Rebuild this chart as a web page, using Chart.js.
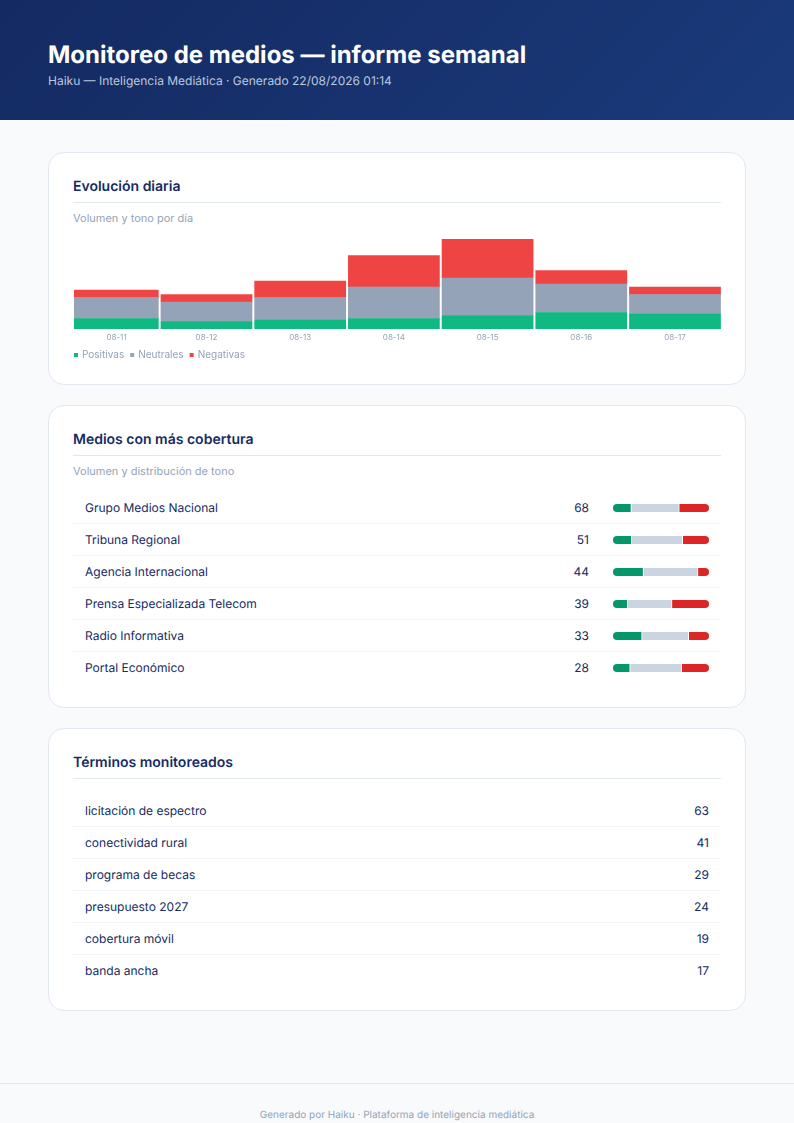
<!DOCTYPE html>
<html lang="es">
<head>
<meta charset="utf-8">
<title>Monitoreo de medios</title>
<script src="https://cdn.jsdelivr.net/npm/chart.js@4"></script>
<style>
*{box-sizing:border-box;margin:0;padding:0}
body{width:794px;height:1123px;background:#f8fafc;font-family:Inter,sans-serif;color:#152b63;position:relative;overflow:hidden;text-rendering:geometricPrecision}
header{height:120px;background:linear-gradient(135deg,#142a62,#1a3a7a);padding:40px 48px 0;color:#fff}
header h1{font-size:24px;line-height:29px;font-weight:700}
header p{font-size:12px;line-height:16px;margin-top:4px;color:#bcc8de}
.card{position:absolute;left:48px;width:698px;background:#fff;border:1px solid #e2e8f0;border-radius:16px;padding:0 24px}
.card h2{font-size:14px;line-height:18px;font-weight:600;margin-top:25px;padding-bottom:6px;border-bottom:1px solid #e2e8f0;height:25px}
.sub{font-size:11px;line-height:14px;color:#94a3b8;margin-top:8px}
.chart-wrap{position:absolute;left:19px;top:82px;width:653px;height:135px}
ul{list-style:none}
li{height:32px;padding:0 12px;display:flex;align-items:center;font-size:12px;border-bottom:1px solid #f1f5f9}
li:last-child{border-bottom-color:transparent}
li .name{flex:1}
li .num{width:40px;text-align:right}
li .mini{width:96px;height:8px;margin-left:24px;border-radius:4px;overflow:hidden}
li canvas{display:block}
footer{position:absolute;left:0;right:0;top:1083px;border-top:1px solid #e2e8f0;padding-top:24px;text-align:center;font-size:10px;line-height:14px;color:#94a3b8}
</style>
</head>
<body>
<header>
  <h1>Monitoreo de medios — informe semanal</h1>
  <p>Haiku — Inteligencia Mediática · Generado 22/08/2026 01:14</p>
</header>

<section class="card" style="top:152px;height:233px">
  <h2>Evolución diaria</h2>
  <div class="sub">Volumen y tono por día</div>
  <div class="chart-wrap"><canvas id="dailyChart" width="653" height="135"></canvas></div>
</section>

<section class="card" style="top:405px;height:303px">
  <h2>Medios con más cobertura</h2>
  <div class="sub">Volumen y distribución de tono</div>
  <ul id="outlets" style="margin-top:14px"></ul>
</section>

<section class="card" style="top:728px;height:283px">
  <h2>Términos monitoreados</h2>
  <ul id="terms" style="margin-top:16px"></ul>
</section>

<footer>Generado por Haiku · Plataforma de inteligencia mediática</footer>

<script>
// Daily chart data
const days = ['08-11','08-12','08-13','08-14','08-15','08-16','08-17'];
const positives = [7,5,6,7,9,11,10];
const neutrals = [14,13,15,21,25,19,13];
const negatives = [5,5,11,21,26,9,5];

// Outlets
const outletNames = ['Grupo Medios Nacional','Tribuna Regional','Agencia Internacional','Prensa Especializada Telecom','Radio Informativa','Portal Económico'];
const outletPos = [13,10,14,6,10,5];
const outletNeu = [34,27,25,18,16,15];
const outletNeg = [21,14,5,15,7,8];

// Terms
const termNames = ['licitación de espectro','conectividad rural','programa de becas','presupuesto 2027','cobertura móvil','banda ancha'];
const termCounts = [63,41,29,24,19,17];

Chart.defaults.font.family = 'Inter';
Chart.defaults.animation = false;

const toPoints = arr => arr.map((v,i)=>({x:i,y:v}));

new Chart(document.getElementById('dailyChart'), {
  type:'bar',
  data:{datasets:[
    {label:'Positivas',data:toPoints(positives),backgroundColor:'#10b981'},
    {label:'Neutrales',data:toPoints(neutrals),backgroundColor:'#94a3b8'},
    {label:'Negativas',data:toPoints(negatives),backgroundColor:'#ef4444'}
  ].map(d=>({...d,barThickness:'flex',categoryPercentage:0.972,barPercentage:1}))},
  options:{
    responsive:false,
    layout:{padding:{top:4,left:0,right:0,bottom:0}},
    plugins:{
      tooltip:{enabled:false},
      legend:{position:'bottom',align:'start',labels:{usePointStyle:true,pointStyle:'rect',boxWidth:2,boxHeight:4,padding:7,color:'#94a3b8',font:{size:10,lineHeight:1}}}
    },
    scales:{
      x:{type:'linear',stacked:true,offset:false,min:-0.414,max:6.491,grid:{display:false,drawTicks:false},border:{display:false},
        afterBuildTicks:s=>{s.ticks=days.map((d,i)=>({value:i===0?0.04:i}));},
        afterFit:s=>{s.height=14;},
        ticks:{autoSkip:false,maxRotation:0,color:'#94a3b8',font:{size:8,lineHeight:1},padding:5,callback:(v,i)=>days[i]}},
      y:{stacked:true,min:0,max:60,grid:{display:false},border:{display:false},ticks:{display:false},afterFit:s=>{s.width=6;}}
    }
  }
});

const outletList = document.getElementById('outlets');
outletNames.forEach((name,i)=>{
  const total = outletPos[i]+outletNeu[i]+outletNeg[i];
  const li = document.createElement('li');
  li.innerHTML = `<span class="name">${name}</span><span class="num">${total}</span><div class="mini"><canvas width="96" height="8"></canvas></div>`;
  outletList.appendChild(li);
  new Chart(li.querySelector('canvas'), {
    type:'bar',
    data:{labels:[name],datasets:[
      {data:[outletPos[i]],backgroundColor:'#059669',borderWidth:{right:1}},
      {data:[outletNeu[i]],backgroundColor:'#cbd5e1',borderWidth:{right:1}},
      {data:[outletNeg[i]],backgroundColor:'#dc2626'}
    ].map(d=>({...d,borderColor:'#fff',categoryPercentage:1,barPercentage:1,borderSkipped:false}))},
    options:{
      indexAxis:'y',responsive:false,
      plugins:{legend:{display:false},tooltip:{enabled:false}},
      scales:{x:{stacked:true,display:false,min:0,max:total},y:{stacked:true,display:false}}
    }
  });
});

const termList = document.getElementById('terms');
termNames.forEach((name,i)=>{
  const li = document.createElement('li');
  li.innerHTML = `<span class="name">${name}</span><span class="num">${termCounts[i]}</span>`;
  termList.appendChild(li);
});
</script>
</body>
</html>
